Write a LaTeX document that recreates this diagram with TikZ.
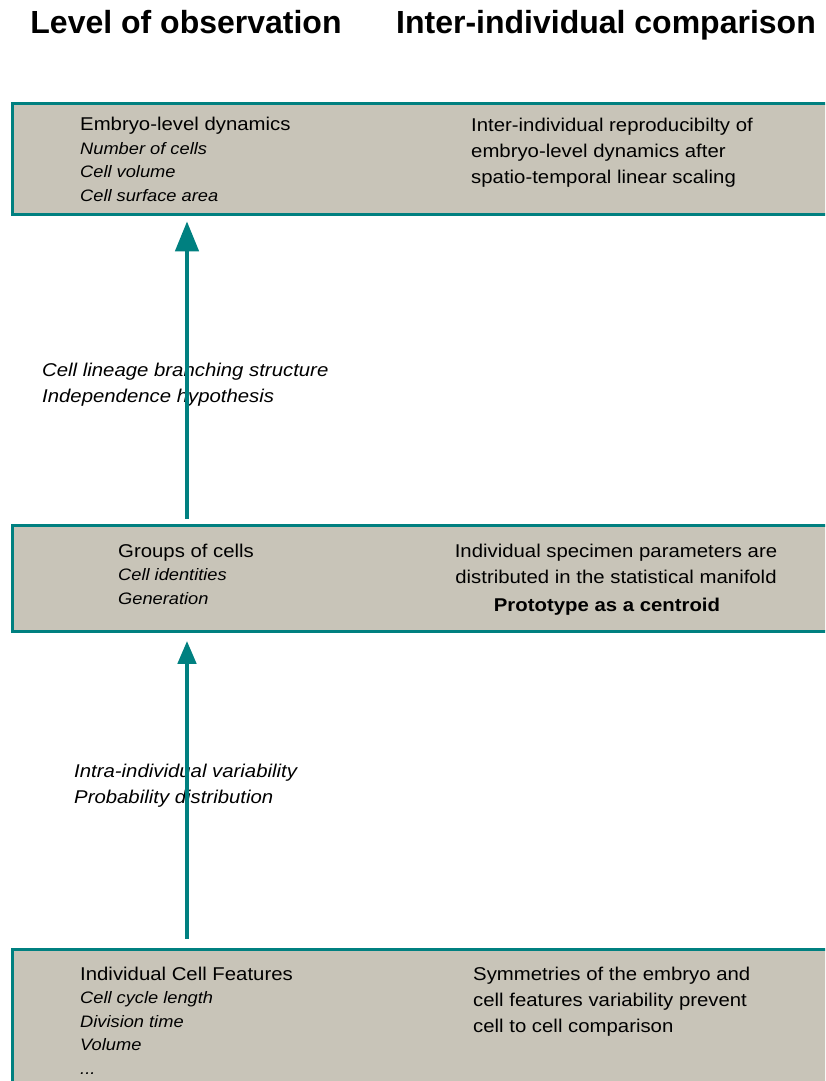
\documentclass[tikz,border=0pt]{standalone}
\usepackage{fontspec}
\setmainfont{Liberation Sans}
\newfontfamily\bodyfont{Liberation Sans}[FakeStretch=1.1]
\usetikzlibrary{arrows.meta,positioning,calc}
\definecolor{boxteal}{RGB}{0,128,128}
\definecolor{boxgrey}{RGB}{200,196,184}

\tikzset{
    level/.style={draw=boxteal, line width=3.3pt, fill=boxgrey, anchor=north west,
        minimum width=830pt, inner sep=0pt},
    heading/.style={anchor=base, inner sep=0pt, font=\fontsize{32}{38}\selectfont\bfseries},
    featlist/.style={anchor=base west, inner sep=0pt, align=left,
        font=\bodyfont\itshape\fontsize{16.6}{23.4}\selectfont},
    note/.style={anchor=base west, inner sep=0pt, align=left,
        font=\bodyfont\fontsize{18.5}{26}\selectfont},
    hypo/.style={anchor=base west, inner sep=0pt, align=left,
        font=\bodyfont\itshape\fontsize{18.5}{26}\selectfont},
    flow/.style={line width=4.5pt, draw=boxteal, fill=boxteal}
}
\newcommand{\firstline}[1]{{\upshape\fontsize{18.5}{23.4}\selectfont #1}}

\begin{document}
\begin{tikzpicture}[x=1pt,y=-1pt]
    \useasboundingbox (0,0) rectangle (825,1081);
    \clip (0,0) rectangle (825,1081);

    % Column headings
    \node[heading] (obshead) at (186,33.3) {Level of observation};
    \node[heading] (cmphead) at (606,33.3) {Inter-individual comparison};

    % Levels
    \foreach \name/\y/\h in {emb/102/111, grp/523.5/106, feat/947.5/200} {
        \node[level, minimum height=\h pt] (\name) at (11,\y) {};
    }

    % Embryo level (base = last line)
    \node[featlist] (embl) at (80,201) {\firstline{Embryo-level dynamics}\\
        Number of cells\\ Cell volume\\ Cell surface area};
    \node[note] (embr) at (471,183) {Inter-individual reproducibilty of\\
        embryo-level dynamics after\\ spatio-temporal linear scaling};

    % Groups of cells
    \node[featlist] (grpl) at (118,604.3) {\firstline{Groups of cells}\\
        Cell identities\\ Generation};
    \node[note, anchor=base, align=center] (grpr) at (616,611.5)
        {Individual specimen parameters are\\ distributed in the statistical manifold\\[2pt]
        \textbf{Prototype as a centroid}\hspace*{18pt}};

    % Cell features
    \node[featlist] (featl) at (80,1074) {\firstline{Individual Cell Features}\\
        Cell cycle length\\ Division time\\ Volume\\ ...};
    \node[note] (featr) at (473,1032.5) {Symmetries of the embryo and\\
        cell features variability prevent\\ cell to cell comparison};

    % Hypotheses between levels
    \node[hypo] (hypup) at (42,402) {Cell lineage branching structure\\
        Independence hypothesis};
    \node[hypo] (hyplow) at (74,803.5) {Intra-individual variability\\
        Probability distribution};

    % Arrows
    \coordinate (ax) at (187,0);
    \draw[flow, -{Triangle[length=30pt,width=23pt]}, shorten <=5pt, shorten >=5pt]
        (ax |- grp.north) -- (ax |- emb.south);
    \draw[flow, -{Triangle[length=23pt,width=18pt]}, shorten <=9pt, shorten >=8pt]
        (ax |- feat.north) -- (ax |- grp.south);
\end{tikzpicture}
\end{document}
